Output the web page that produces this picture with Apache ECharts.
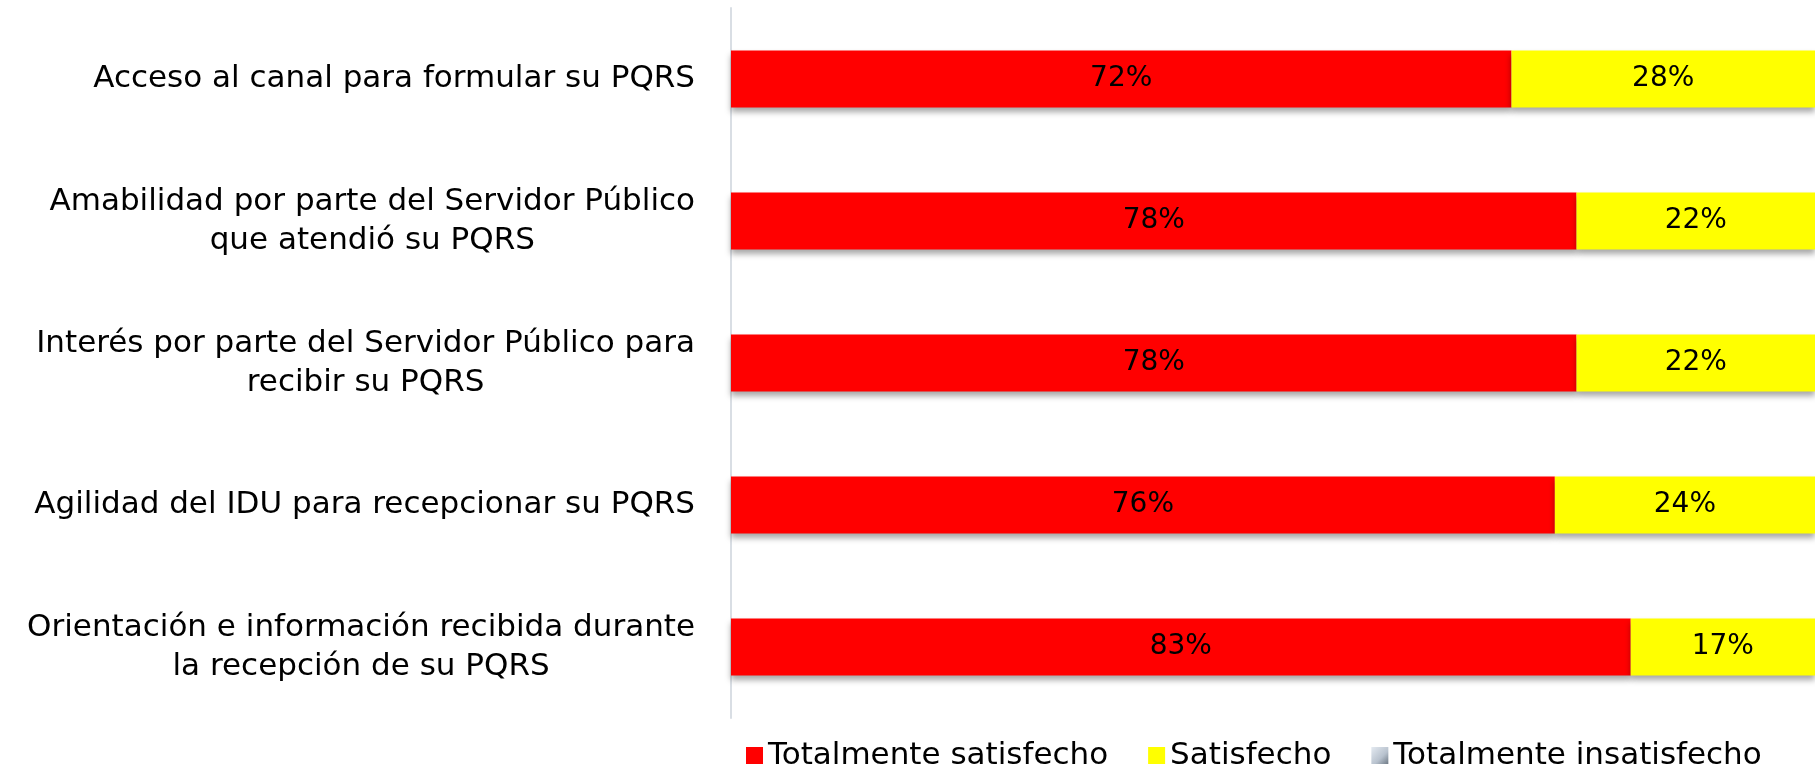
<!DOCTYPE html>
<html>
<head>
<meta charset="utf-8">
<script src="https://cdn.jsdelivr.net/npm/echarts@6/dist/echarts.min.js"></script>
<style>
html,body{margin:0;padding:0;background:#fff;}
#chart{width:1815px;height:770px;}
</style>
</head>
<body>
<div id="chart"></div>
<script>
const categories = [
  ["Acceso al canal para formular su PQRS"],
  ["Amabilidad por parte del Servidor Público", "que atendió su PQRS"],
  ["Interés por parte del Servidor Público para", "recibir su PQRS"],
  ["Agilidad del IDU para recepcionar su PQRS"],
  ["Orientación e información recibida durante", "la recepción de su PQRS"]
];
const seriesNames = ["Totalmente satisfecho", "Satisfecho", "Totalmente insatisfecho"];
const totalmenteSatisfecho = [72, 78, 78, 76, 83];
const satisfecho = [28, 22, 22, 24, 17];
const totalmenteInsatisfecho = [0, 0, 0, 0, 0];

const FONT = "DejaVu Sans";
const chart = echarts.init(document.getElementById('chart'));
const shadow = {shadowColor: 'rgba(0,0,0,0.35)', shadowBlur: 6, shadowOffsetY: 4};
const lbl = {
  show: true, position: 'inside', color: '#000', fontFamily: FONT, fontSize: 28,
  formatter: p => p.value ? p.value + '%' : ''
};
chart.setOption({
  animation: false,
  grid: {left: 731, width: 1088, top: 8, bottom: 52},
  legend: {
    left: 741, top: 735, itemWidth: 17, itemHeight: 17, itemGap: 40,
    textStyle: {fontFamily: FONT, fontSize: 31, color: '#000'},
    data: [
      {name: seriesNames[0], icon: 'rect'},
      {name: seriesNames[1], icon: 'rect'},
      {name: seriesNames[2], icon: 'rect'}
    ]
  },
  xAxis: {type: 'value', min: 0, max: 100, show: false},
  yAxis: {
    type: 'category', inverse: true,
    data: categories.map(c => c.join('\n')),
    axisLine: {show: true, lineStyle: {color: '#D9DEE4', width: 2}},
    axisTick: {show: false},
    axisLabel: {
      margin: 36, color: '#000', fontFamily: FONT, fontSize: 31, lineHeight: 39,
      formatter: v => v.split('\n').map(s => '{c|' + s + '}').join('\n'),
      rich: {c: {align: 'center', fontFamily: FONT, fontSize: 31, lineHeight: 39, color: '#000'}}
    }
  },
  series: [
    {name: seriesNames[0], type: 'bar', stack: 't', barWidth: 57, data: totalmenteSatisfecho,
     itemStyle: Object.assign({color: '#FF0000'}, shadow), label: lbl},
    {name: seriesNames[1], type: 'bar', stack: 't', barWidth: 57, data: satisfecho,
     itemStyle: Object.assign({color: '#FFFF00'}, shadow), label: lbl},
    {name: seriesNames[2], type: 'bar', stack: 't', barWidth: 57, data: totalmenteInsatisfecho,
     itemStyle: {color: new echarts.graphic.LinearGradient(0, 0, 1, 1, [
       {offset: 0, color: '#E4EAF1'}, {offset: 0.6, color: '#B8C2CE'}, {offset: 1, color: '#6F7A86'}])},
     label: lbl}
  ]
});
</script>
</body>
</html>
